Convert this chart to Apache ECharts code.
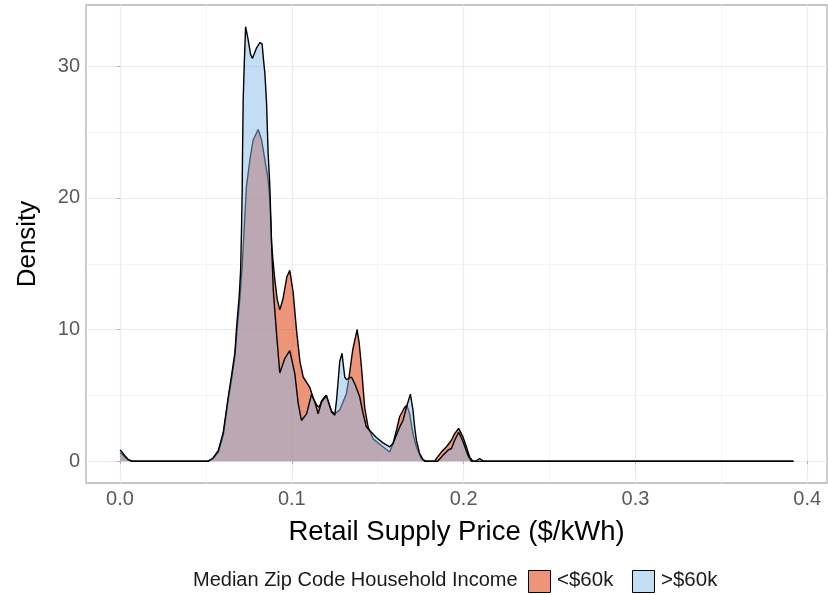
<!DOCTYPE html>
<html>
<head>
<meta charset="utf-8">
<script src="https://cdn.jsdelivr.net/npm/echarts@6/dist/echarts.min.js"></script>
<style>
  html, body { margin: 0; padding: 0; background: #ffffff; }
  #chart { width: 828px; height: 595px; }
</style>
</head>
<body>
<div id="chart"></div>
<script>
// Kernel density of retail supply price, by median zip code household income
const groupNames = ['<$60k', '>$60k'];
const legendTitle = 'Median Zip Code Household Income';

const priceLow = [0, 0.0012, 0.0029, 0.0047, 0.007, 0.0512, 0.0541, 0.0572, 0.0601, 0.063,
  0.0649, 0.0669, 0.068, 0.0698, 0.0711, 0.0724, 0.0736, 0.0756, 0.0775, 0.0804,
  0.0824, 0.0843, 0.0862, 0.0872, 0.0882, 0.089, 0.0901, 0.0915, 0.093, 0.0948,
  0.0971, 0.0988, 0.1008, 0.1027, 0.1047, 0.1066, 0.1086, 0.1105, 0.1124, 0.1143,
  0.1159, 0.1174, 0.1198, 0.1215, 0.1231, 0.125, 0.1279, 0.1318, 0.1333, 0.1355,
  0.138, 0.1392, 0.1405, 0.1424, 0.1444, 0.1473, 0.1521, 0.157, 0.1589, 0.1609,
  0.1628, 0.1657, 0.167, 0.1686, 0.1705, 0.1725, 0.1754, 0.1773, 0.1831, 0.1841,
  0.187, 0.19, 0.1929, 0.1948, 0.1971, 0.1996, 0.2016, 0.2035, 0.2054, 0.392];
const densityLow = [0.65, 0.55, 0.3, 0.1, 0, 0, 0.2, 0.7, 2.0, 4.7,
  6.2, 8.0, 9.8, 12.4, 14.8, 18.0, 20.9, 22.9, 24.4, 25.2,
  24.4, 22.9, 21.4, 19.9, 16.6, 15.3, 13.8, 12.3, 11.5, 12.3,
  14.0, 14.5, 12.8, 10.0, 7.6, 6.4, 6.0, 5.6, 4.8, 4.3,
  4.1, 4.6, 5.0, 4.4, 3.8, 3.6, 3.9, 5.15, 6.4, 8.5,
  10.0, 9.0, 7.2, 4.1, 2.6, 1.7, 1.2, 0.7, 1.35, 2.36,
  3.4, 4.1, 4.26, 3.6, 2.1, 1.1, 0.2, 0, 0, 0.2,
  0.7, 1.1, 1.6, 2.1, 2.5, 1.85, 1.1, 0.33, 0, 0];

const priceHigh = [0, 0.0012, 0.0029, 0.0047, 0.007, 0.0512, 0.0541, 0.0572, 0.0601, 0.063,
  0.0649, 0.0669, 0.0678, 0.0694, 0.0702, 0.0707, 0.0711, 0.0713, 0.0717, 0.0724,
  0.0731, 0.0746, 0.076, 0.0771, 0.0795, 0.0814, 0.0827, 0.0835, 0.0843, 0.0853,
  0.0862, 0.0872, 0.0882, 0.0892, 0.0911, 0.093, 0.0959, 0.0988, 0.1017, 0.1037,
  0.1056, 0.1086, 0.1115, 0.1134, 0.1153, 0.1173, 0.1202, 0.1231, 0.125, 0.126,
  0.1279, 0.1292, 0.1308, 0.1318, 0.1347, 0.1366, 0.1395, 0.1415, 0.1434, 0.1463,
  0.1492, 0.1531, 0.157, 0.1589, 0.1609, 0.1628, 0.1647, 0.1667, 0.169, 0.1705,
  0.1715, 0.1725, 0.1744, 0.1764, 0.1785, 0.1849, 0.188, 0.1909, 0.1929, 0.1948,
  0.1971, 0.1996, 0.2025, 0.2045, 0.207, 0.2093, 0.2116, 0.392];
const densityHigh = [0.85, 0.7, 0.4, 0.15, 0, 0, 0.25, 0.8, 2.2, 4.9,
  6.5, 8.3, 10.1, 12.6, 14.5, 17.5, 20.5, 23.4, 27.5, 30.5,
  33.0, 32.0, 30.9, 30.6, 31.4, 31.8, 31.7, 30.5, 29.5, 27.2,
  23.4, 20.9, 16.6, 13.0, 9.7, 6.7, 7.8, 8.4, 6.7, 4.4,
  3.1, 3.6, 5.1, 4.5, 3.6, 4.5, 5.0, 3.75, 3.5, 4.6,
  7.6, 8.2, 6.4, 6.2, 6.4, 5.9, 4.9, 3.6, 2.6, 2.2,
  1.8, 1.4, 1.1, 1.35, 2.0, 2.6, 3.1, 4.1, 5.1, 3.9,
  2.6, 1.6, 0.58, 0.13, 0, 0, 0.45, 0.84, 0.97, 1.6,
  2.2, 1.5, 0.45, 0, 0, 0.2, 0, 0];

const xTicks = [0, 0.1, 0.2, 0.3, 0.4];
const xMinor = [0.05, 0.15, 0.25, 0.35];
const yTicks = [0, 10, 20, 30];
const yMinor = [5, 15, 25];

const FONT = 'Liberation Sans, Arial, sans-serif';
const fillLow = 'rgb(227,77,32)';
const fillHigh = 'rgb(135,187,235)';
const keyLow = 'rgb(238,148,121)';
const keyHigh = 'rgb(195,221,245)';

const pairs = (xs, ys) => xs.map((x, i) => [x, ys[i]]);

const major = { color: '#EBEBEB', width: 1.2, type: 'solid' };
const minor = { color: '#F3F3F3', width: 0.8, type: 'solid' };
const gridLines = []
  .concat(xTicks.map(v => ({ xAxis: v, lineStyle: major })))
  .concat(xMinor.map(v => ({ xAxis: v, lineStyle: minor })))
  .concat(yTicks.map(v => ({ yAxis: v, lineStyle: major })))
  .concat(yMinor.map(v => ({ yAxis: v, lineStyle: minor })));

const chart = echarts.init(document.getElementById('chart'), null, { renderer: 'canvas' });

chart.setOption({
  animation: false,
  backgroundColor: '#ffffff',
  grid: {
    left: 86, right: 1, top: 5, bottom: 112,
    show: true, borderColor: '#B3B3B3', borderWidth: 1.3, backgroundColor: 'transparent'
  },
  xAxis: {
    type: 'value', min: -0.0198, max: 0.4115,
    name: 'Retail Supply Price ($/kWh)', nameLocation: 'middle', nameGap: 35,
    nameTextStyle: { fontFamily: FONT, fontSize: 27.5, color: '#000000' },
    axisLine: { show: false },
    axisTick: { show: true, customValues: xTicks, length: 3, lineStyle: { color: '#B3B3B3', width: 1 } },
    axisLabel: {
      customValues: xTicks, margin: 6, fontFamily: FONT, fontSize: 20, color: '#5A5A5A',
      formatter: v => v.toFixed(1)
    },
    splitLine: { show: false }
  },
  yAxis: {
    type: 'value', min: -1.65, max: 34.65,
    name: 'Density', nameLocation: 'middle', nameGap: 45, nameRotate: 90,
    nameTextStyle: { fontFamily: FONT, fontSize: 26, color: '#000000' },
    axisLine: { show: false },
    axisTick: { show: true, customValues: yTicks, length: 3, lineStyle: { color: '#B3B3B3', width: 1 } },
    axisLabel: {
      customValues: yTicks, margin: 6, fontFamily: FONT, fontSize: 20, color: '#5A5A5A',
      formatter: v => String(v)
    },
    splitLine: { show: false }
  },
  series: [
    {
      name: 'grid', type: 'line', data: [], z: 0, silent: true,
      markLine: {
        z: 0, silent: true, symbol: ['none', 'none'], label: { show: false },
        lineStyle: { type: 'solid' },
        emphasis: { disabled: true }, animation: false, data: gridLines
      }
    },
    {
      name: groupNames[0], type: 'line', z: 10, data: pairs(priceLow, densityLow),
      showSymbol: false, symbol: 'none', silent: true,
      lineStyle: { color: '#000000', width: 1.4 },
      areaStyle: { color: fillLow, opacity: 0.6 }
    },
    {
      name: groupNames[1], type: 'line', z: 11, data: pairs(priceHigh, densityHigh),
      showSymbol: false, symbol: 'none', silent: true,
      lineStyle: { color: '#000000', width: 1.4 },
      areaStyle: { color: fillHigh, opacity: 0.5 }
    }
  ],
  graphic: [
    { type: 'text', left: 193, top: 570, style: { text: legendTitle, font: '20px ' + FONT, fill: '#1A1A1A' } },
    { type: 'rect', shape: { x: 528.5, y: 570.5, width: 22, height: 22 }, style: { fill: keyLow, stroke: '#000000', lineWidth: 1 } },
    { type: 'text', left: 557, top: 570, style: { text: groupNames[0], font: '20.5px ' + FONT, fill: '#1A1A1A' } },
    { type: 'rect', shape: { x: 632.5, y: 570.5, width: 22, height: 22 }, style: { fill: keyHigh, stroke: '#000000', lineWidth: 1 } },
    { type: 'text', left: 661, top: 570, style: { text: groupNames[1], font: '20.5px ' + FONT, fill: '#1A1A1A' } }
  ]
});
</script>
</body>
</html>
